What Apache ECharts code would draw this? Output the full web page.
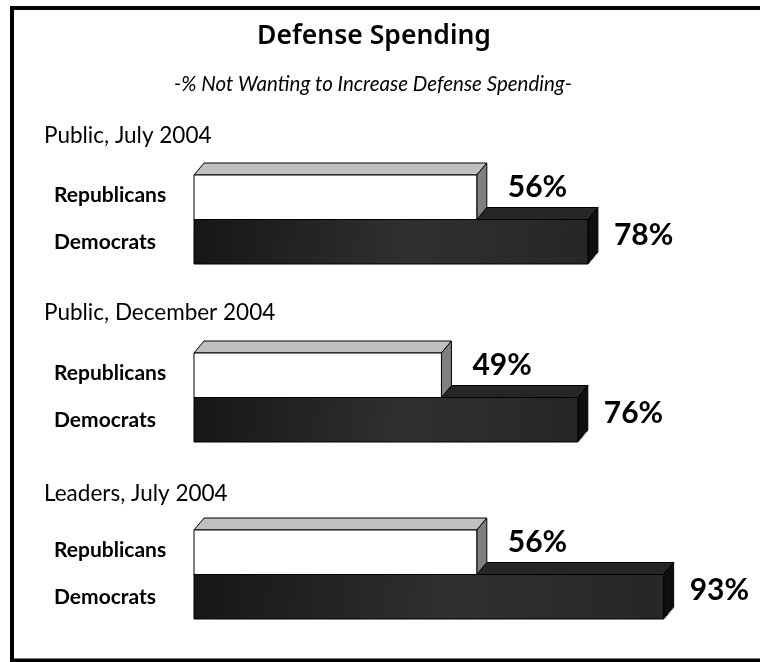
<!DOCTYPE html>
<html>
<head>
<meta charset="utf-8">
<script src="https://cdn.jsdelivr.net/npm/echarts@6/dist/echarts.min.js"></script>
<style>
  html, body { margin: 0; padding: 0; background: #fff; overflow: hidden; }
  #chart { width: 760px; height: 662px; }
</style>
</head>
<body>
<div id="chart"></div>
<script>
// Survey groups and their shares (%) not wanting to increase defense spending
const panelTitles = ['Public, July 2004', 'Public, December 2004', 'Leaders, July 2004'];
const parties = ['Republicans', 'Democrats'];
const republicans = [56, 49, 56];
const democrats = [78, 76, 93];

const FONT = 'Lato, "Noto Sans", sans-serif';
const panelTops = [175, 353, 530];
const panelTitleY = [136, 313, 494];
const PLOT_LEFT = 194;
const PLOT_WIDTH = 505;
const PLOT_HEIGHT = 89;
const DEPTH_X = 10;
const DEPTH_Y = 12;

// Styles of the two bar kinds: light bar for Republicans, dark for Democrats
const barStyles = [
  {
    front: '#ffffff',
    top: '#c0c0c0',
    side: '#808080',
    edge: '#000000'
  },
  {
    front: {
      type: 'linear', x: 0, y: 0, x2: 1, y2: 1,
      colorStops: [
        { offset: 0, color: '#161616' },
        { offset: 0.55, color: '#303030' },
        { offset: 1, color: '#262626' }
      ]
    },
    top: '#262626',
    side: '#0f0f0f',
    edge: '#000000'
  }
];

// Draws a bar as a box: front face, top face and right face, plus its value
function renderBox(params, api) {
  const value = api.value(0);
  const cat = api.value(1);
  const start = api.coord([0, cat]);
  const end = api.coord([value, cat]);
  const band = api.size([0, 1])[1];
  const x0 = start[0];
  const x1 = end[0];
  const yTop = end[1] - band / 2;
  const yBot = end[1] + band / 2;
  const st = barStyles[cat];
  const children = [
    {
      type: 'polygon',
      shape: { points: [[x0, yTop], [x0 + DEPTH_X, yTop - DEPTH_Y], [x1 + DEPTH_X, yTop - DEPTH_Y], [x1, yTop]] },
      style: { fill: st.top, stroke: st.edge, lineWidth: 1 }
    },
    {
      type: 'polygon',
      shape: { points: [[x1, yTop], [x1 + DEPTH_X, yTop - DEPTH_Y], [x1 + DEPTH_X, yBot - DEPTH_Y], [x1, yBot]] },
      style: { fill: st.side, stroke: st.edge, lineWidth: 1 }
    },
    {
      type: 'rect',
      shape: { x: x0, y: yTop, width: x1 - x0, height: yBot - yTop },
      style: { fill: st.front, stroke: st.edge, lineWidth: 1 }
    }
  ];
  if (cat === 1) {
    // faint highlight along the lower edge of the right face
    children.push({
      type: 'line',
      shape: { x1: x1 + 1, y1: yBot, x2: x1 + DEPTH_X, y2: yBot - DEPTH_Y + 1 },
      style: { stroke: '#bbbbbb', lineWidth: 1 }
    });
  }
  const labelX = x1 + (cat === 0 ? 31 : 26);
  const labelY = cat === 0 ? yTop + 12 : (yTop + yBot) / 2 - 6;
  children.push({
    type: 'text',
    style: {
      text: value + '%',
      x: labelX,
      y: labelY,
      fill: '#000',
      font: 'bold 30px ' + FONT,
      textAlign: 'left',
      textVerticalAlign: 'middle'
    }
  });
  return { type: 'group', children: children };
}

const grids = [], xAxes = [], yAxes = [], series = [];
const texts = [
  {
    type: 'text', silent: true,
    style: {
      text: 'Defense Spending', x: 374, y: 36,
      font: '600 26.5px "Noto Sans", Lato, sans-serif',
      fill: '#000', textAlign: 'center', textVerticalAlign: 'middle'
    }
  },
  {
    type: 'text', silent: true,
    style: {
      text: '-% Not Wanting to Increase Defense Spending-', x: 373, y: 84,
      font: 'italic 20.5px ' + FONT,
      fill: '#000', textAlign: 'center', textVerticalAlign: 'middle'
    }
  }
];

panelTitles.forEach((name, i) => {
  texts.push({
    type: 'text', silent: true,
    style: {
      text: name, x: 44, y: panelTitleY[i],
      font: '22.5px ' + FONT,
      fill: '#000', textAlign: 'left', textVerticalAlign: 'middle'
    }
  });
  grids.push({ left: PLOT_LEFT, top: panelTops[i], width: PLOT_WIDTH, height: PLOT_HEIGHT });
  xAxes.push({
    type: 'value', gridIndex: i, min: 0, max: 100, show: false
  });
  yAxes.push({
    type: 'category', gridIndex: i, data: parties, inverse: true,
    axisLine: { show: false }, axisTick: { show: false }, splitLine: { show: false },
    axisLabel: {
      align: 'left', margin: 140,
      formatter: (v) => (v === 'Republicans' ? '{r|' + v + '}' : '{d|' + v + '}'),
      rich: {
        r: { fontFamily: FONT, fontSize: 21, fontWeight: 'bold', color: '#000', padding: [0, 0, 4, 0] },
        d: { fontFamily: FONT, fontSize: 21, fontWeight: 'bold', color: '#000' }
      }
    }
  });
  series.push({
    type: 'custom',
    xAxisIndex: i, yAxisIndex: i,
    renderItem: renderBox,
    encode: { x: 0, y: 1 },
    // dark bar first so the light bar sits in front of it
    data: [[democrats[i], 1], [republicans[i], 0]],
    silent: true
  });
});

// open frame: left, top and bottom rules
const frameStyle = { stroke: '#000', lineWidth: 4 };
texts.push(
  { type: 'line', silent: true, shape: { x1: 12, y1: 6, x2: 12, y2: 662 }, style: frameStyle },
  { type: 'line', silent: true, shape: { x1: 10, y1: 8, x2: 760, y2: 8 }, style: frameStyle },
  { type: 'line', silent: true, shape: { x1: 10, y1: 660.5, x2: 760, y2: 660.5 }, style: frameStyle }
);

const chart = echarts.init(document.getElementById('chart'), null, { renderer: 'canvas' });
chart.setOption({
  backgroundColor: '#ffffff',
  animation: false,
  grid: grids,
  xAxis: xAxes,
  yAxis: yAxes,
  series: series,
  graphic: texts
});
</script>
</body>
</html>
